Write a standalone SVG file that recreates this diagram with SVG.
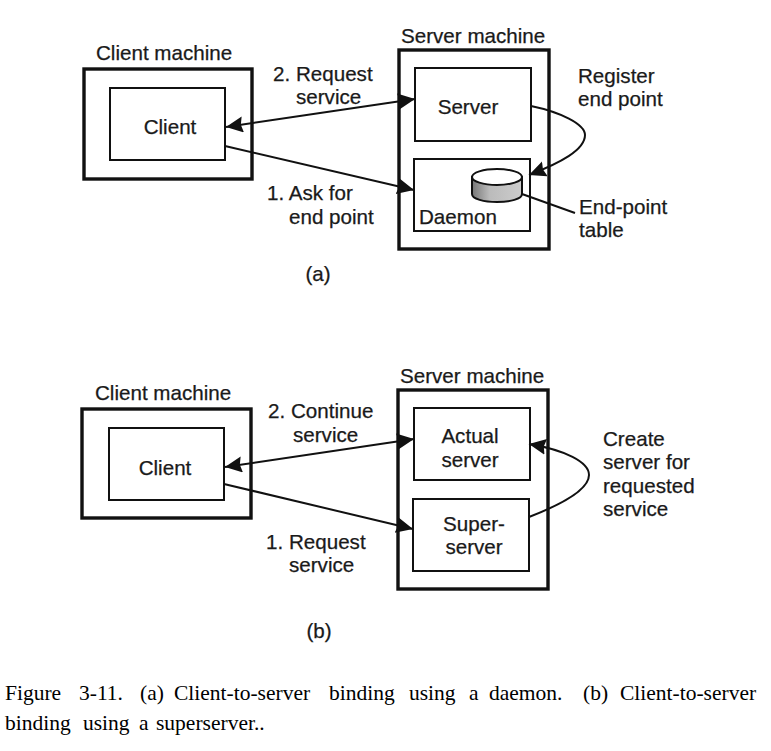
<svg xmlns="http://www.w3.org/2000/svg" width="771" height="751" viewBox="0 0 771 751">
<style>
text{font-family:"Liberation Sans",Arial,sans-serif;font-size:20.6px;fill:#1a1a1a;stroke:#1a1a1a;stroke-width:.25px}
text.cap{font-family:"Liberation Serif","Times New Roman",serif;font-size:21.5px;fill:#000;stroke:none}
.m{text-anchor:middle}
.outer{fill:#fff;stroke:#111;stroke-width:3.4}
.inner{fill:#fff;stroke:#111;stroke-width:2}
.line{fill:none;stroke:#111;stroke-width:2}
</style>
<defs>
<marker id="a" markerUnits="userSpaceOnUse" markerWidth="20" markerHeight="18" refX="17" refY="8" orient="auto-start-reverse"><path d="M0 0L17 8L0 16L2 8Z" fill="#111"/></marker>
<linearGradient id="g" x1="0" x2="1" y1="0" y2="0"><stop offset="0" stop-color="#777"/><stop offset=".35" stop-color="#bbb"/><stop offset="1" stop-color="#ccc"/></linearGradient>
</defs>
<rect width="771" height="751" fill="#fff"/>

<g id="client-machine-a"><rect class="outer" x="84" y="69" width="168" height="110"/><text x="96" y="60">Client machine</text></g>
<g id="client-a"><rect class="inner" x="110" y="88" width="115" height="72"/><text class="m" x="170" y="134">Client</text></g>
<g id="server-machine-a"><rect class="outer" x="399" y="50" width="150" height="199"/><text x="401" y="43">Server machine</text></g>
<g id="server-a"><rect class="inner" x="415" y="68" width="116" height="73"/><text class="m" x="468" y="114">Server</text></g>
<g id="daemon-a"><rect class="inner" x="414" y="159" width="116" height="72"/><text x="419" y="224">Daemon</text></g>
<g id="table-a"><path d="M472 177V194C472 199 484 202 497 202C510 202 522 199 522 194V177Z" fill="url(#g)" stroke="#111" stroke-width="2"/><ellipse cx="497" cy="177" rx="25" ry="8" fill="#fff" stroke="#111" stroke-width="2"/></g>

<g id="connectors-a">
<path class="line" d="M226 127L415 99" marker-start="url(#a)" marker-end="url(#a)"/>
<path class="line" d="M225 146L414 190" marker-end="url(#a)"/>
<path class="line" d="M531 106C560 112 585 124 585 135C585 150 560 163 529 175" marker-end="url(#a)"/>
<path class="line" d="M522 194L575 213"/>
</g>
<g id="labels-a">
<text x="273" y="81">2. Request</text><text x="296" y="104">service</text>
<text x="267" y="200">1. Ask for</text><text x="289" y="224">end point</text>
<text x="578" y="83">Register</text><text x="578" y="106">end point</text>
<text x="579" y="214">End-point</text><text x="579" y="237">table</text>
<text class="m" x="318" y="281">(a)</text>
</g>

<g id="client-machine-b"><rect class="outer" x="82" y="409" width="169" height="109"/><text x="95" y="400">Client machine</text></g>
<g id="client-b"><rect class="inner" x="109" y="428" width="115" height="72"/><text class="m" x="165" y="475">Client</text></g>
<g id="server-machine-b"><rect class="outer" x="398" y="390" width="150" height="199"/><text x="400" y="383">Server machine</text></g>
<g id="actual-server"><rect class="inner" x="414" y="408" width="116" height="72"/><text class="m" x="470" y="443">Actual</text><text class="m" x="470" y="467">server</text></g>
<g id="superserver"><rect class="inner" x="413" y="499" width="116" height="72"/><text class="m" x="474" y="531">Super-</text><text class="m" x="474" y="554">server</text></g>

<g id="connectors-b">
<path class="line" d="M225 467L414 439" marker-start="url(#a)" marker-end="url(#a)"/>
<path class="line" d="M224 484L413 529" marker-end="url(#a)"/>
<path class="line" d="M529 517C560 505 589 490 589 475C589 462 565 450 529 444" marker-end="url(#a)"/>
</g>
<g id="labels-b">
<text x="268" y="418">2. Continue</text><text x="293" y="442">service</text>
<text x="266" y="549">1. Request</text><text x="289" y="572">service</text>
<text x="603" y="446">Create</text><text x="603" y="469">server for</text><text x="603" y="493">requested</text><text x="603" y="516">service</text>
<text class="m" x="319" y="638">(b)</text>
</g>

<g id="caption">
<text class="cap" y="700"><tspan x="5">Figure</tspan> <tspan x="79">3-11.</tspan> <tspan x="140">(a)</tspan> <tspan x="174">Client-to-server</tspan> <tspan x="329">binding</tspan> <tspan x="409">using</tspan> <tspan x="469">a</tspan> <tspan x="489">daemon.</tspan> <tspan x="583">(b)</tspan> <tspan x="620">Client-to-server</tspan></text>
<text class="cap" y="730"><tspan x="5">binding</tspan> <tspan x="83">using</tspan> <tspan x="139">a</tspan> <tspan x="156">superserver..</tspan></text>
</g>
</svg>
